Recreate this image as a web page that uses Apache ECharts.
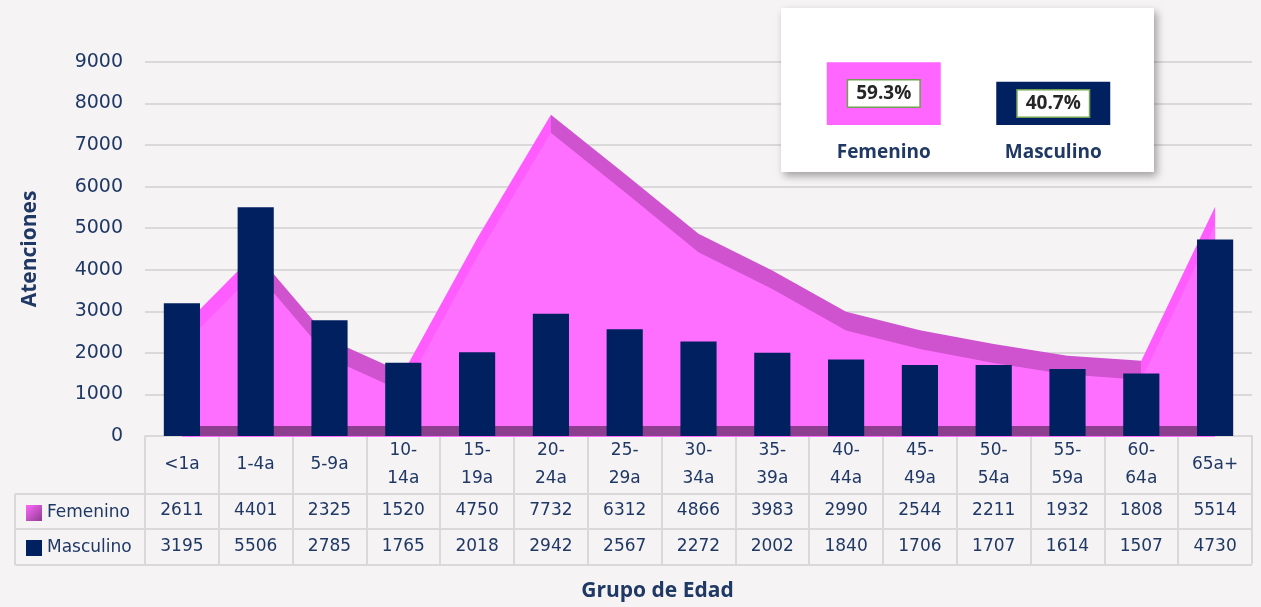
<!DOCTYPE html>
<html lang="es">
<head>
  <meta charset="UTF-8">
  <title>Atenciones por grupo de edad</title>
  <style>
    html, body { margin: 0; padding: 0; background: #f5f3f4; }
    #chart { width: 1261px; height: 607px; }
  </style>
</head>
<body>
  <div id="chart"></div>
  <script src="https://cdn.jsdelivr.net/npm/echarts@6/dist/echarts.min.js"></script>
  <script>
    const categories = ['<1a', '1-4a', '5-9a', '10-\n14a', '15-\n19a', '20-\n24a', '25-\n29a', '30-\n34a',
      '35-\n39a', '40-\n44a', '45-\n49a', '50-\n54a', '55-\n59a', '60-\n64a', '65a+'];
    const femenino = [2611, 4401, 2325, 1520, 4750, 7732, 6312, 4866, 3983, 2990, 2544, 2211, 1932, 1808, 5514];
    const masculino = [3195, 5506, 2785, 1765, 2018, 2942, 2567, 2272, 2002, 1840, 1706, 1707, 1614, 1507, 4730];
    const shareNames = ['Femenino', 'Masculino'];
    const shareValues = [59.3, 40.7];

    const navy = '#002060';
    const pink = '#ff6fff';
    const pinkDark = '#cf52cf';
    const pinkLight = '#ff5cff';
    const floor = '#8e3e8e';
    const textColor = '#1f3864';
    const lineColor = '#d9d9d9';

    const myChart = echarts.init(document.getElementById('chart'));

    // etiquetas del eje = cabecera + filas de la tabla de datos
    function tableLabel(value, idx) {
      const parts = value.split('\n');
      const head = parts.length === 1
        ? '{h1|' + value + '}'
        : '{h2|' + parts[0] + '}\n{h2|' + parts[1] + '}';
      return head + '\n{r|' + femenino[idx] + '}\n{r|' + masculino[idx] + '}';
    }

    // cara superior del área 3D: clara donde sube, oscura donde baja
    const n = femenino.length - 1;
    const topStops = [];
    for (let i = 0; i < n; i++) {
      const c = femenino[i + 1] >= femenino[i] ? pinkLight : pinkDark;
      topStops.push({ offset: i / n, color: c }, { offset: (i + 1) / n, color: c });
    }

    const option = {
      backgroundColor: '#f5f3f4',
      textStyle: { fontFamily: 'DejaVu Sans' },
      legend: {
        orient: 'vertical',
        left: 21,
        top: 498,
        itemWidth: 16,
        itemHeight: 16,
        itemGap: 15,
        selectedMode: false,
        textStyle: { color: textColor, fontSize: 17, lineHeight: 20, fontFamily: 'DejaVu Sans' },
        data: [
          {
            name: 'Femenino', icon: 'rect',
            itemStyle: {
              color: new echarts.graphic.LinearGradient(0, 0, 1, 1, [
                { offset: 0, color: '#ff66ff' }, { offset: 1, color: '#8e3e8e' }
              ])
            }
          },
          { name: 'Masculino', icon: 'rect', itemStyle: { color: navy } }
        ]
      },
      grid: [
        { left: 145, right: 9, top: 62, bottom: 170 },
        { left: 145, right: 9, top: 80, bottom: 170 },
        { left: 799, width: 339, top: 19, bottom: 482 }
      ],
      xAxis: [
        {
          type: 'category', gridIndex: 0, data: categories,
          name: 'Grupo de Edad', nameLocation: 'middle', nameGap: 145,
          nameTextStyle: { color: textColor, fontSize: 21, fontWeight: 'bold', fontFamily: 'Open Sans', padding: [0, 82, 0, 0] },
          axisLine: { lineStyle: { color: lineColor, width: 2 } },
          axisTick: { show: true, interval: 0, length: 128, lineStyle: { color: lineColor, width: 2 } },
          axisLabel: {
            interval: 0, margin: 0, color: textColor, fontSize: 17,
            formatter: tableLabel,
            rich: {
              h1: { lineHeight: 57, fontSize: 17, color: textColor },
              h2: { lineHeight: 28.5, fontSize: 17, color: textColor },
              r: { lineHeight: 35.5, fontSize: 17, color: textColor }
            }
          }
        },
        { type: 'category', gridIndex: 1, data: categories, show: false },
        {
          type: 'category', gridIndex: 2, data: shareNames, z: 4,
          axisLine: { show: false }, axisTick: { show: false },
          axisLabel: { margin: 18, color: textColor, fontSize: 19, fontWeight: 'bold', fontFamily: 'Open Sans' }
        }
      ],
      yAxis: [
        {
          type: 'value', gridIndex: 0, min: 0, max: 9000, interval: 1000,
          name: 'Atenciones', nameLocation: 'middle', nameGap: 104, nameRotate: 90,
          nameTextStyle: { color: textColor, fontSize: 21, fontWeight: 'bold', fontFamily: 'Open Sans' },
          axisLine: { show: false }, axisTick: { show: false },
          axisLabel: { margin: 22, color: textColor, fontSize: 19, formatter: v => String(v) },
          splitLine: { lineStyle: { color: lineColor, width: 2 } }
        },
        // cara frontal del área 3D, desplazada 18px hacia abajo
        { type: 'value', gridIndex: 1, min: 432, max: 9000, show: false, splitLine: { show: false } },
        { type: 'value', gridIndex: 2, min: 0, max: 100, show: false, splitLine: { show: false } }
      ],
      graphic: [
        {
          type: 'rect', z: 1, shape: { x: 781, y: 8, width: 373, height: 164 },
          style: { fill: '#ffffff', shadowBlur: 8, shadowOffsetX: 3, shadowOffsetY: 4, shadowColor: 'rgba(0,0,0,0.35)' }
        },
        { type: 'line', z: 1, shape: { x1: 15, y1: 494, x2: 1252, y2: 494 }, style: { stroke: lineColor, lineWidth: 2 } },
        { type: 'line', z: 1, shape: { x1: 15, y1: 529, x2: 1252, y2: 529 }, style: { stroke: lineColor, lineWidth: 2 } },
        { type: 'line', z: 1, shape: { x1: 15, y1: 565, x2: 1252, y2: 565 }, style: { stroke: lineColor, lineWidth: 2 } },
        { type: 'line', z: 1, shape: { x1: 15, y1: 494, x2: 15, y2: 565 }, style: { stroke: lineColor, lineWidth: 2 } }
      ],
      series: [
        {
          name: 'Femenino', type: 'line', xAxisIndex: 0, yAxisIndex: 0, z: 2,
          data: femenino, symbol: 'none', color: pinkDark,
          lineStyle: { width: 0 },
          areaStyle: { color: new echarts.graphic.LinearGradient(0, 0, 1, 0, topStops), opacity: 1 },
          markArea: {
            silent: true, z: 4,
            itemStyle: { color: floor, opacity: 1 },
            data: [[{ xAxis: 0, yAxis: 0 }, { xAxis: categories.length - 1, yAxis: 240 }]]
          }
        },
        {
          name: 'Femenino', type: 'line', xAxisIndex: 1, yAxisIndex: 1, z: 3,
          data: femenino, symbol: 'none', color: pink,
          lineStyle: { width: 0 },
          areaStyle: { color: pink, opacity: 1 }
        },
        {
          name: 'Masculino', type: 'bar', xAxisIndex: 0, yAxisIndex: 0, z: 5,
          data: masculino, barWidth: '49%', color: navy
        },
        {
          name: 'Participación', type: 'bar', xAxisIndex: 2, yAxisIndex: 2, z: 3,
          barWidth: 114,
          data: shareValues.map((v, i) => ({ value: v, itemStyle: { color: i === 0 ? '#ff66ff' : navy } })),
          label: {
            show: true, position: 'inside',
            formatter: p => p.value.toFixed(1) + '%',
            color: '#262626', fontSize: 19, fontWeight: 'bold', fontFamily: 'Open Sans',
            backgroundColor: '#ffffff', borderColor: '#70a050', borderWidth: 1.5,
            padding: [4, 8, 3, 8]
          }
        }
      ]
    };
    myChart.setOption(option);
  </script>
</body>
</html>
